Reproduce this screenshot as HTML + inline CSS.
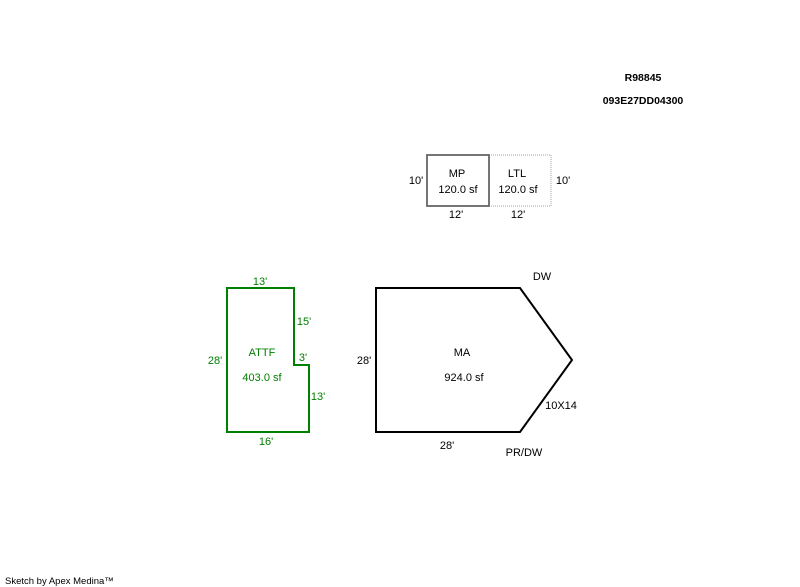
<!DOCTYPE html>
<html>
<head>
<meta charset="utf-8">
<style>
html,body{margin:0;padding:0;background:#fff;width:800px;height:587px;overflow:hidden}
svg{display:block}
text{font-family:"Liberation Sans",sans-serif;font-size:11px;fill:#000}
.c{text-anchor:middle}
.g{fill:#008000}
.b{font-weight:bold;font-size:10.5px}
.s{font-size:9.5px}
</style>
</head>
<body>
<svg width="800" height="587" viewBox="0 0 800 587" xmlns="http://www.w3.org/2000/svg">
<text class="c b" x="643" y="81">R98845</text>
<text class="c b" x="643" y="104">093E27DD04300</text>

<polyline points="489,155 551,155 551,206 489,206" fill="none" stroke="#c4c4c4" stroke-width="1.6" stroke-dasharray="1 1"/>
<rect x="427" y="155" width="62" height="51" fill="none" stroke="#666" stroke-width="1.8"/>
<text class="c" x="457" y="177">MP</text>
<text class="c" x="458" y="193">120.0 sf</text>
<text class="c" x="517" y="177">LTL</text>
<text class="c" x="518" y="193">120.0 sf</text>
<text class="c" x="416" y="184">10'</text>
<text class="c" x="563" y="184">10'</text>
<text class="c" x="456" y="218">12'</text>
<text class="c" x="518" y="218">12'</text>

<polygon points="227,288 294,288 294,365 309,365 309,432 227,432" fill="none" stroke="#008000" stroke-width="2"/>
<text class="c g" x="262" y="356">ATTF</text>
<text class="c g" x="262" y="381">403.0 sf</text>
<text class="c g" x="260" y="285">13'</text>
<text class="c g" x="304" y="325">15'</text>
<text class="c g" x="303" y="361">3'</text>
<text class="c g" x="318" y="400">13'</text>
<text class="c g" x="215" y="364">28'</text>
<text class="c g" x="266" y="445">16'</text>

<polygon points="376,288 520,288 572,360 520,432 376,432" fill="none" stroke="#000" stroke-width="2"/>
<text class="c" x="462" y="356">MA</text>
<text class="c" x="464" y="381">924.0 sf</text>
<text class="c" x="364" y="364">28'</text>
<text class="c" x="447" y="449">28'</text>
<text class="c" x="542" y="280">DW</text>
<text class="c" x="524" y="456">PR/DW</text>
<text class="c" x="561" y="409">10X14</text>

<text class="s" x="5" y="584">Sketch by Apex Medina™</text>
</svg>
</body>
</html>
